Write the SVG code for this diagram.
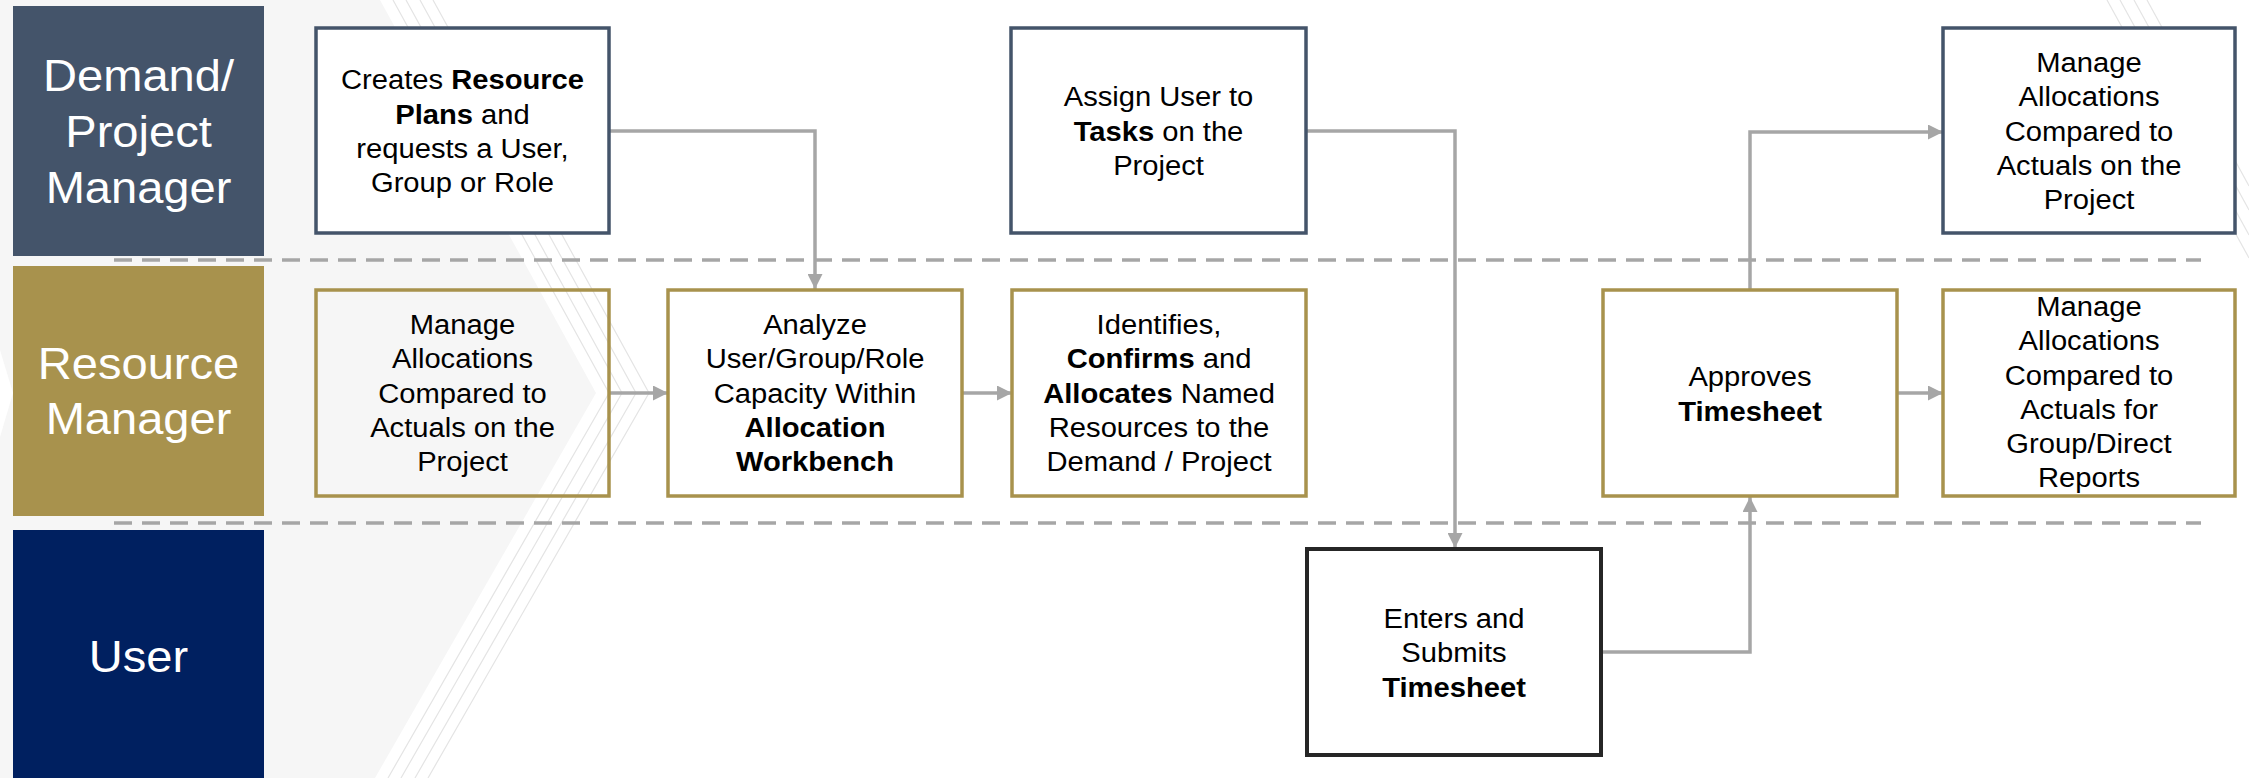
<svg xmlns="http://www.w3.org/2000/svg" width="2249" height="778" viewBox="0 0 2249 778">
<defs>
<style>
.bgline{fill:none;stroke:#e4e4e4;stroke-width:1.2}
.lane text{font-family:"Liberation Sans",Arial,sans-serif;font-size:44px;fill:#ffffff;text-anchor:middle}
.node text{font-family:"Liberation Sans",Arial,sans-serif;font-size:27px;fill:#000000;text-anchor:middle}
.b{font-weight:bold}
.pm{fill:#ffffff;stroke:#44546a;stroke-width:3.5}
.rm{fill:#ffffff;stroke:#a8924d;stroke-width:3.5}
.rmt{fill:none;stroke:#a8924d;stroke-width:3.5}
.us{fill:#ffffff;stroke:#262626;stroke-width:4}
.sep{stroke:#a6a6a6;stroke-width:3.5;stroke-dasharray:18 10;fill:none}
.conn{fill:none;stroke:#a6a6a6;stroke-width:3.5;marker-end:url(#ah)}
</style>
<marker id="ah" markerUnits="userSpaceOnUse" markerWidth="16" markerHeight="15" refX="15" refY="7.5" orient="auto">
<path d="M0,0 L15,7.5 L0,15 Z" fill="#a6a6a6"/>
</marker>
</defs>
<g id="background">
<rect x="0" y="0" width="2249" height="778" fill="#ffffff"/>
<polygon points="0,0 380,0 596,393 375,778 0,778" fill="#f6f6f6"/>
<polygon points="0,350 13,393 0,437" fill="#ffffff"/>
<polyline class="bgline" points="393,0 609,393 388,778"/>
<polyline class="bgline" points="406,0 622,393 401,778"/>
<polyline class="bgline" points="420,0 636,393 415,778"/>
<polyline class="bgline" points="433,0 649,393 428,778"/>
<line class="bgline" x1="2107" y1="0" x2="2249" y2="258"/>
<line class="bgline" x1="2120" y1="0" x2="2249" y2="235"/>
<line class="bgline" x1="2134" y1="0" x2="2249" y2="210"/>
<line class="bgline" x1="2147" y1="0" x2="2249" y2="186"/>
</g>
<g id="separators">
<line class="sep" x1="114" y1="260" x2="2201" y2="260"/>
<line class="sep" x1="114" y1="523" x2="2201" y2="523"/>
</g>
<g id="lane-pm" class="lane">
<rect x="13" y="6" width="251" height="250" fill="#44546a"/>
<text transform="translate(138.5 0) scale(1.07 1)"><tspan x="0" y="91">Demand/</tspan><tspan x="0" y="147">Project</tspan><tspan x="0" y="203">Manager</tspan></text>
</g>
<g id="lane-rm" class="lane">
<rect x="13" y="266" width="251" height="250" fill="#a8924d"/>
<text transform="translate(138.5 0) scale(1.07 1)"><tspan x="0" y="379">Resource</tspan><tspan x="0" y="434">Manager</tspan></text>
</g>
<g id="lane-user" class="lane">
<rect x="13" y="530" width="251" height="248" fill="#002060"/>
<text transform="translate(138.5 0) scale(1.07 1)"><tspan x="0" y="672">User</tspan></text>
</g>
<g id="connectors">
<path class="conn" d="M609,131 H815 V289"/>
<path class="conn" d="M609,393 H668"/>
<path class="conn" d="M962,393 H1012"/>
<path class="conn" d="M1306,131 H1455 V548"/>
<path class="conn" d="M1601,652 H1750 V497"/>
<path class="conn" d="M1750,289 V132 H1943"/>
<path class="conn" d="M1897,393 H1943"/>
</g>
<g id="node-create-plans" class="node">
<rect class="pm" x="316" y="28" width="293" height="205"/>
<text transform="translate(462.5 0) scale(1.08 1)"><tspan x="0" y="89.5">Creates <tspan class="b">Resource</tspan></tspan><tspan x="0" y="123.8"><tspan class="b">Plans</tspan> and</tspan><tspan x="0" y="158.1">requests a User,</tspan><tspan x="0" y="192.4">Group or Role</tspan></text>
</g>
<g id="node-assign-tasks" class="node">
<rect class="pm" x="1011" y="28" width="295" height="205"/>
<text transform="translate(1158.5 0) scale(1.08 1)"><tspan x="0" y="106.5">Assign User to</tspan><tspan x="0" y="140.8"><tspan class="b">Tasks</tspan> on the</tspan><tspan x="0" y="175.1">Project</tspan></text>
</g>
<g id="node-pm-manage" class="node">
<rect class="pm" x="1943" y="28" width="292" height="205"/>
<text transform="translate(2089 0) scale(1.08 1)"><tspan x="0" y="72">Manage</tspan><tspan x="0" y="106.3">Allocations</tspan><tspan x="0" y="140.6">Compared to</tspan><tspan x="0" y="174.9">Actuals on the</tspan><tspan x="0" y="209.2">Project</tspan></text>
</g>
<g id="node-rm-manage" class="node">
<rect class="rmt" x="316" y="290" width="293" height="206"/>
<text transform="translate(462.5 0) scale(1.08 1)"><tspan x="0" y="334">Manage</tspan><tspan x="0" y="368.3">Allocations</tspan><tspan x="0" y="402.6">Compared to</tspan><tspan x="0" y="436.9">Actuals on the</tspan><tspan x="0" y="471.2">Project</tspan></text>
</g>
<g id="node-analyze" class="node">
<rect class="rm" x="668" y="290" width="294" height="206"/>
<text transform="translate(815 0) scale(1.08 1)"><tspan x="0" y="334">Analyze</tspan><tspan x="0" y="368.3">User/Group/Role</tspan><tspan x="0" y="402.6">Capacity Within</tspan><tspan x="0" y="436.9" class="b">Allocation</tspan><tspan x="0" y="471.2" class="b">Workbench</tspan></text>
</g>
<g id="node-identifies" class="node">
<rect class="rm" x="1012" y="290" width="294" height="206"/>
<text transform="translate(1159 0) scale(1.08 1)"><tspan x="0" y="334">Identifies,</tspan><tspan x="0" y="368.3"><tspan class="b">Confirms</tspan> and</tspan><tspan x="0" y="402.6"><tspan class="b">Allocates</tspan> Named</tspan><tspan x="0" y="436.9">Resources to the</tspan><tspan x="0" y="471.2">Demand / Project</tspan></text>
</g>
<g id="node-approves" class="node">
<rect class="rm" x="1603" y="290" width="294" height="206"/>
<text transform="translate(1750 0) scale(1.08 1)"><tspan x="0" y="386.5">Approves</tspan><tspan x="0" y="420.8" class="b">Timesheet</tspan></text>
</g>
<g id="node-rm-manage-group" class="node">
<rect class="rm" x="1943" y="290" width="292" height="206"/>
<text transform="translate(2089 0) scale(1.08 1)"><tspan x="0" y="316">Manage</tspan><tspan x="0" y="350.3">Allocations</tspan><tspan x="0" y="384.6">Compared to</tspan><tspan x="0" y="418.9">Actuals for</tspan><tspan x="0" y="453.2">Group/Direct</tspan><tspan x="0" y="487.5">Reports</tspan></text>
</g>
<g id="node-enters" class="node">
<rect class="us" x="1307" y="549" width="294" height="206"/>
<text transform="translate(1454 0) scale(1.08 1)"><tspan x="0" y="628">Enters and</tspan><tspan x="0" y="662.3">Submits</tspan><tspan x="0" y="696.6" class="b">Timesheet</tspan></text>
</g>
</svg>
